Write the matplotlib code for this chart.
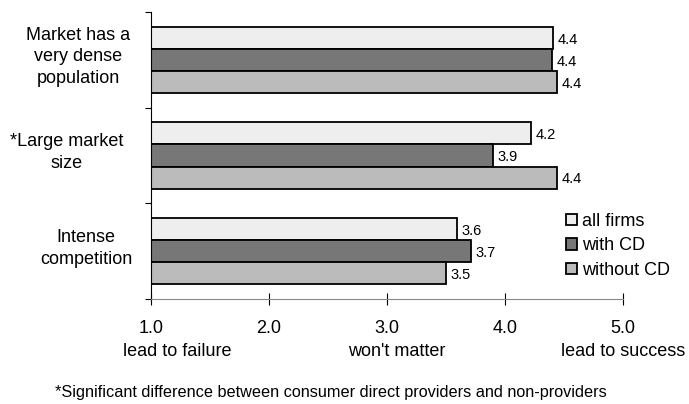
import matplotlib
matplotlib.use('Agg')
from matplotlib import pyplot as plt
from matplotlib.patches import Patch
import matplotlib.transforms as mtransforms
import numpy as np

plt.rcParams['font.family'] = ['Liberation Sans', 'DejaVu Sans']

categories = ['Market has a\nvery dense\npopulation', '*Large market\nsize', 'Intense\ncompetition']
series_names = ['all firms', 'with CD', 'without CD']
all_firms = [4.41, 4.22, 3.59]
with_cd = [4.40, 3.90, 3.71]
without_cd = [4.44, 4.44, 3.50]
value_labels = [['4.4', '4.2', '3.6'], ['4.4', '3.9', '3.7'], ['4.4', '4.4', '3.5']]
tick_values = [1.0, 2.0, 3.0, 4.0, 5.0]
scale_labels = ['lead to failure', "won't matter", 'lead to success']
colors = ['#eeeeee', '#777777', '#bbbbbb']

W, H = 689, 404
fig = plt.figure(figsize=(W / 100, H / 100), dpi=100)
ax = fig.add_axes([151 / W, 1 - 299 / H, 472 / W, 287 / H])

bar_h = 0.23
centers = np.arange(len(categories)) + 0.5
series = [all_firms, with_cd, without_cd]
for j, vals in enumerate(series):
    y = centers + (j - 1) * bar_h
    vals = np.array(vals)
    ax.barh(y, vals - 1.0, left=1.0, height=bar_h, color=colors[j],
            edgecolor='black', linewidth=1.3)
    for yi, v, lab in zip(y, vals, value_labels[j]):
        ax.text(v + 0.04, yi + 0.02, lab, va='center', ha='left', fontsize=10.5)

ax.set_xlim(1.0, 5.0)
ax.set_ylim(3, 0)
ax.set_xticks(tick_values)
ax.set_xticklabels(['%.1f' % t for t in tick_values], fontsize=13)
ax.tick_params(axis='x', direction='inout', length=8, pad=11)
ax.set_yticks([0, 1, 2, 3])
ax.set_yticklabels([])
ax.tick_params(axis='y', direction='out', length=4)
ax.spines['top'].set_visible(False)
ax.spines['right'].set_visible(False)
ax.spines['bottom'].set_color('#888888')

# second line of x labels (pixel positions)
for s, px in zip(scale_labels, [177, 397, 623]):
    fig.text(px / W, 1 - 351 / H, s, ha='center', va='center', fontsize=13)

# category labels, each centred on its own column like the original
fig_data = mtransforms.blended_transform_factory(fig.transFigure, ax.transData)
for c, lab, px in zip(centers, categories, [78, 67, 86]):
    ax.text(px / W, c - 0.03, lab, transform=fig_data,
            ha='center', va='center', fontsize=13, linespacing=1.38)

handles = [Patch(facecolor=colors[j], edgecolor='black', linewidth=1.3) for j in range(3)]
fig.legend(handles, series_names, loc='center left', bbox_to_anchor=(566 / W, 1 - 246 / H),
           frameon=False, fontsize=13, handlelength=0.6, handleheight=0.6,
           handletextpad=0.3, labelspacing=0.42, borderaxespad=0, borderpad=0)

fig.text(55 / W, 1 - 393 / H, '*Significant difference between consumer direct providers and non-providers',
         fontsize=11.7, va='center', ha='left')

fig.savefig('out.png', dpi=100)
